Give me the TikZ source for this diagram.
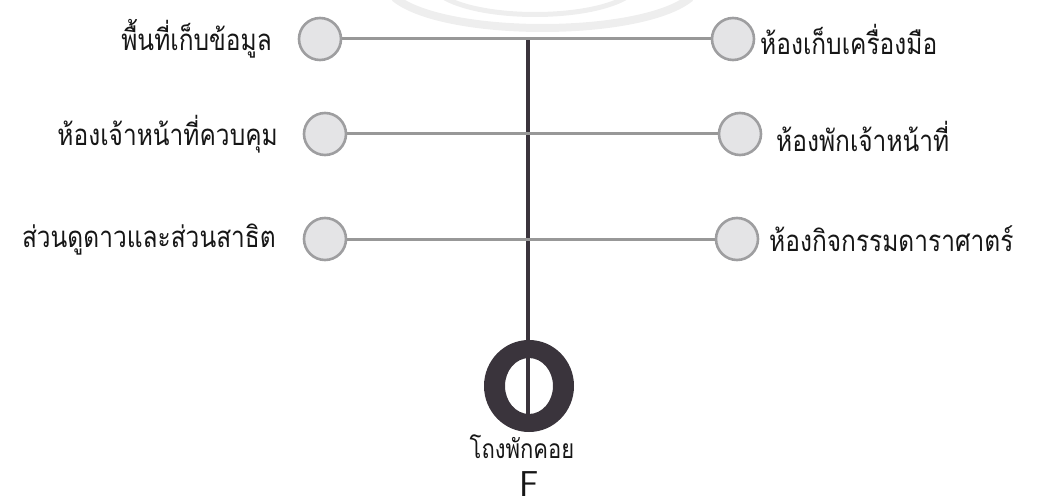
\documentclass[tikz,border=0pt]{standalone}
\usepackage{graphicx}
\usepackage{fontspec}
\newfontfamily\thaifont[Script=Thai]{Loma}
\definecolor{linegray}{RGB}{152,152,152}
\definecolor{circfill}{RGB}{228,228,230}
\definecolor{circdraw}{RGB}{158,158,160}
\definecolor{darkline}{RGB}{58,52,60}
\definecolor{txt}{RGB}{22,22,22}
\definecolor{wmark}{RGB}{238,238,238}
\newcommand\tall[1]{\scalebox{1}[1.2]{#1}}
\tikzset{
  room/.style={circle, draw=circdraw, fill=circfill, line width=2.6pt, minimum size=42pt, inner sep=0pt},
  link/.style={draw=linegray, line width=3pt},
  spine/.style={draw=darkline, line width=4pt},
  lbl/.style={font=\thaifont\fontsize{24.5}{28}\selectfont, text=txt, inner sep=0pt},
  wm/.style={draw=wmark, line cap=round},
}
\begin{document}
\begin{tikzpicture}[x=1pt,y=-1pt]
\useasboundingbox (0,0) rectangle (1039,500);
% faint watermark arcs
\draw[wm, line width=8pt] (395,-2) .. controls (445,38) and (640,38) .. (690,-2);
\draw[wm, line width=5pt] (445,-2) .. controls (485,20) and (585,20) .. (625,-2);
% spine
\coordinate (top) at (528,39);
\coordinate (bottom) at (528,415);
\draw[spine] (top) -- (bottom);
% hall ring
\coordinate (hall) at (529,386);
\fill[darkline, even odd rule] (hall) ellipse [x radius=45pt, y radius=46pt]
  (hall) ellipse [x radius=24pt, y radius=28pt];
% rooms
\node[room] (l1) at (320,39) {};
\node[room] (r1) at (733,39) {};
\node[room] (l2) at (325,134) {};
\node[room] (r2) at (740,134) {};
\node[room] (l3) at (325,239) {};
\node[room] (r3) at (737,239) {};
\draw[link] (l1.east) -- (r1.west);
\draw[link] (l2.east) -- (r2.west);
\draw[link] (l3.east) -- (r3.west);
% labels
\node[lbl, anchor=east] (t1) at (272,39) {\tall{พื้นที่เก็บข้อมูล}};
\node[lbl, anchor=west] (t2) at (760,39) {\tall{ห้องเก็บเครื่องมือ}};
\node[lbl, anchor=east] (t3) at (278,134) {\tall{ห้องเจ้าหน้าที่ควบคุม}};
\node[lbl, anchor=west] (t4) at (776,136) {\tall{ห้องพักเจ้าหน้าที่}};
\node[lbl, anchor=east] (t5) at (276,240) {\tall{ส่วนดูดาวและส่วนสาธิต}};
\node[lbl, anchor=west] (t6) at (769,239) {\tall{ห้องกิจกรรมดาราศาตร์}};
\node[lbl, font=\thaifont\fontsize{22}{26}\selectfont] (t7) at (522,447) {\tall{โถงพักคอย}};
\node[text=txt, font=\sffamily\fontsize{36}{40}\selectfont, inner sep=0pt] (t8) at (529,484) {F};
\end{tikzpicture}
\end{document}
